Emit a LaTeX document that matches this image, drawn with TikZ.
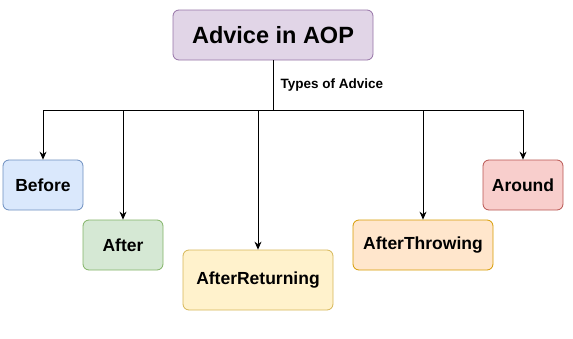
\documentclass[tikz,border=0pt]{standalone}
\usepackage{fontspec}
\setmainfont{Liberation Sans}
\usepackage{tikz}
\usetikzlibrary{arrows.meta, positioning}
\definecolor{LilacFill}{HTML}{E1D5E7}
\definecolor{LilacLine}{HTML}{9673A6}
\definecolor{SkyFill}{HTML}{DAE8FC}
\definecolor{SkyLine}{HTML}{6C8EBF}
\definecolor{MintFill}{HTML}{D5E8D4}
\definecolor{MintLine}{HTML}{82B366}
\definecolor{SandFill}{HTML}{FFF2CC}
\definecolor{SandLine}{HTML}{D6B656}
\definecolor{PeachFill}{HTML}{FFE6CC}
\definecolor{PeachLine}{HTML}{D79B00}
\definecolor{RoseFill}{HTML}{F8CECC}
\definecolor{RoseLine}{HTML}{B85450}

\begin{document}
\begin{tikzpicture}[x=1pt, y=-1pt,
    advbox/.style={draw, line width=0.8pt, rounded corners=6pt, font=\bfseries\fontsize{17.5}{20}\selectfont, inner sep=0pt},
    link/.style={line width=0.8pt, -{Stealth[length=8pt, width=7pt]}}]
                    \useasboundingbox (0,0) rectangle (573,338);
                    
                    \node[advbox, fill=LilacFill, draw=LilacLine, minimum width=200pt, minimum height=50pt, font=\bfseries\fontsize{23.5}{27}\selectfont] (advice) at (273,35) {Advice in AOP};
                    \coordinate (split) at (273,110);
                    \node[anchor=west, font=\bfseries\fontsize{13.5}{16}\selectfont] (kinds) at (277,85) {Types of Advice};
                    
                    \node[advbox, fill=SkyFill, draw=SkyLine, minimum width=80pt, minimum height=50pt] (before) at (43,185) {Before};
                    \node[advbox, fill=MintFill, draw=MintLine, minimum width=80pt, minimum height=50pt] (after) at (123,245) {After};
                    \node[advbox, fill=SandFill, draw=SandLine, minimum width=150pt, minimum height=60pt] (returning) at (258,280) {AfterReturning};
                    \node[advbox, fill=PeachFill, draw=PeachLine, minimum width=140pt, minimum height=50pt] (throwing) at (423,245) {AfterThrowing};
                    \node[advbox, fill=RoseFill, draw=RoseLine, minimum width=80pt, minimum height=50pt] (around) at (523,185) {Around};
                    
                    \draw[line width=0.8pt] (advice.south) -- (split);
                    \draw[link] (split) -| (before.north);
                    \draw[link] (split) -| (after.north);
                    \draw[link] (split) -| (returning.north);
                    \draw[link] (split) -| (throwing.north);
                    \draw[link] (split) -| (around.north);
                \end{tikzpicture}
\end{document}
